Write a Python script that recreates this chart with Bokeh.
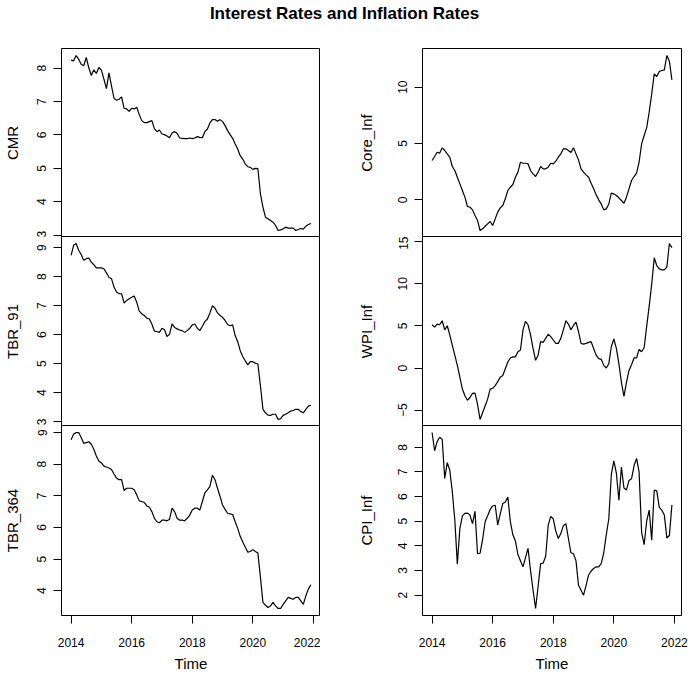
from bokeh.plotting import figure
from bokeh.layouts import column, row
from bokeh.models import Range1d, FixedTicker
from bokeh.embed import file_html
from bokeh.resources import INLINE
from bokeh.core.properties import value

# ---------------- data (monthly, Jan 2014 - Dec 2021) ----------------
start_year = 2014
n_months = 96
time = [start_year + i / 12 for i in range(n_months)]

cmr = [8.24, 8.22, 8.38, 8.27, 8.12, 8.07, 8.32, 8.02, 7.78, 7.95, 7.84, 8.02,
       7.94, 7.67, 7.39, 7.86, 7.47, 7.10, 7.04, 7.07, 7.14, 6.80, 6.78, 6.71,
       6.80, 6.78, 6.83, 6.61, 6.43, 6.37, 6.37, 6.40, 6.43, 6.19, 6.10, 6.15,
       6.03, 6.01, 5.97, 5.92, 6.06, 6.10, 6.05, 5.91, 5.90, 5.89, 5.89, 5.91,
       5.89, 5.91, 5.95, 5.93, 5.92, 6.10, 6.18, 6.36, 6.46, 6.46, 6.41, 6.46,
       6.40, 6.28, 6.13, 6.01, 5.90, 5.73, 5.58, 5.38, 5.28, 5.13, 5.05, 5.03,
       4.97, 5.00, 4.99, 4.24, 3.84, 3.54, 3.49, 3.44, 3.39, 3.29, 3.14, 3.16,
       3.19, 3.24, 3.21, 3.21, 3.21, 3.14, 3.17, 3.20, 3.18, 3.27, 3.32, 3.35]

tbr_91 = [8.73, 9.08, 9.14, 8.91, 8.76, 8.56, 8.62, 8.64, 8.50, 8.41, 8.30, 8.30,
          8.30, 8.27, 8.13, 7.98, 7.93, 7.64, 7.47, 7.41, 7.41, 7.09, 7.18, 7.24,
          7.29, 7.33, 7.12, 6.81, 6.72, 6.66, 6.57, 6.54, 6.37, 6.12, 6.11, 6.08,
          6.22, 6.17, 5.94, 6.02, 6.37, 6.25, 6.20, 6.16, 6.14, 6.08, 6.14, 6.22,
          6.34, 6.37, 6.22, 6.14, 6.29, 6.45, 6.54, 6.75, 7.00, 6.91, 6.75, 6.66,
          6.60, 6.49, 6.35, 6.31, 6.34, 5.97, 5.76, 5.45, 5.25, 5.10, 4.96, 5.07,
          5.07, 5.02, 4.99, 4.24, 3.43, 3.31, 3.23, 3.22, 3.26, 3.26, 3.08, 3.11,
          3.22, 3.26, 3.31, 3.37, 3.39, 3.43, 3.43, 3.35, 3.31, 3.43, 3.54, 3.57]

tbr_364 = [8.77, 8.95, 9.00, 9.00, 8.84, 8.66, 8.68, 8.71, 8.63, 8.47, 8.26, 8.10,
           8.04, 7.94, 7.91, 7.88, 7.83, 7.69, 7.56, 7.51, 7.51, 7.17, 7.24, 7.24,
           7.24, 7.19, 7.03, 6.84, 6.82, 6.79, 6.68, 6.64, 6.50, 6.29, 6.18, 6.15,
           6.23, 6.23, 6.21, 6.26, 6.61, 6.50, 6.29, 6.23, 6.23, 6.21, 6.29, 6.39,
           6.55, 6.61, 6.61, 6.55, 6.82, 7.09, 7.19, 7.30, 7.65, 7.51, 7.24, 6.98,
           6.71, 6.57, 6.45, 6.43, 6.41, 6.18, 5.97, 5.72, 5.54, 5.38, 5.22, 5.24,
           5.30, 5.24, 5.19, 4.43, 3.63, 3.54, 3.47, 3.52, 3.63, 3.52, 3.44, 3.44,
           3.57, 3.68, 3.79, 3.76, 3.73, 3.79, 3.79, 3.68, 3.57, 3.84, 4.05, 4.19]

core_inf = [3.49, 3.85, 4.23, 4.14, 4.62, 4.38, 4.08, 3.79, 2.96, 2.60, 2.01, 1.42,
            0.83, 0.24, -0.59, -0.65, -0.89, -1.39, -1.83, -2.72, -2.57, -2.34, -2.13, -1.92,
            -2.28, -1.69, -1.09, -0.71, -0.50, 0.09, 0.83, 1.12, 1.36, 2.01, 2.46, 3.34,
            3.25, 3.25, 3.20, 2.60, 2.31, 2.07, 2.46, 2.96, 2.75, 2.75, 2.90, 3.25,
            3.20, 3.43, 3.79, 4.08, 4.53, 4.53, 4.38, 4.20, 4.62, 4.08, 3.55, 2.75,
            2.46, 2.22, 2.01, 1.48, 0.98, 0.44, 0.00, -0.36, -0.89, -0.80, -0.36, 0.59,
            0.53, 0.38, 0.18, -0.06, -0.30, 0.24, 0.98, 1.72, 2.07, 2.37, 3.34, 4.97,
            5.71, 6.39, 7.78, 9.41, 11.18, 10.95, 11.39, 11.48, 11.54, 12.81, 12.31, 10.65]

wpi_inf = [5.14, 4.86, 5.22, 5.14, 5.62, 4.54, 5.02, 3.94, 2.73, 1.53, 0.32, -1.08,
           -2.49, -3.29, -3.82, -3.49, -3.01, -2.97, -4.30, -6.10, -5.30, -4.50, -3.69, -2.49,
           -2.41, -2.09, -1.61, -1.08, -0.88, -0.08, 0.72, 1.20, 1.33, 1.33, 1.93, 2.13,
           4.50, 5.55, 5.14, 3.94, 2.33, 0.92, 1.53, 3.13, 3.05, 3.53, 4.02, 3.73,
           3.33, 2.93, 2.93, 3.53, 4.54, 5.62, 5.22, 4.54, 5.06, 5.46, 4.34, 2.93,
           2.85, 2.93, 3.05, 3.13, 2.33, 1.53, 1.12, 1.04, 0.32, 0.00, 0.52, 2.53,
           3.45, 2.33, 0.52, -1.69, -3.37, -1.69, -0.28, 0.40, 1.20, 1.20, 2.21, 1.93,
           2.41, 4.94, 7.35, 9.96, 13.09, 12.17, 11.77, 11.65, 11.65, 11.97, 14.78, 14.30]

cpi_inf = [8.60, 7.86, 8.23, 8.41, 8.33, 6.74, 7.38, 7.08, 6.20, 5.05, 3.26, 4.70,
           5.22, 5.32, 5.33, 5.25, 4.90, 5.40, 3.68, 3.70, 4.25, 4.98, 5.22, 5.48,
           5.62, 5.65, 4.85, 5.30, 5.72, 5.78, 5.98, 4.98, 4.45, 4.20, 3.65, 3.40,
           3.15, 3.52, 3.90, 3.00, 2.20, 1.46, 2.36, 3.28, 3.30, 3.58, 4.84, 5.20,
           5.10, 4.60, 4.30, 4.50, 4.82, 4.90, 4.30, 3.72, 3.68, 3.40, 2.40, 2.20,
           2.00, 2.40, 2.82, 2.98, 3.08, 3.15, 3.15, 3.28, 3.72, 4.45, 5.10, 6.90,
           7.45, 6.95, 5.85, 7.20, 6.35, 6.27, 6.65, 6.72, 7.25, 7.55, 7.00, 4.55,
           4.05, 5.00, 5.45, 4.23, 6.26, 6.23, 5.56, 5.45, 5.25, 4.32, 4.42, 5.66]

x_ticks = [2014, 2016, 2018, 2020, 2022]
cmr_ticks = [3, 4, 5, 6, 7, 8]
tbr91_ticks = [3, 4, 5, 6, 7, 8, 9]
tbr364_ticks = [4, 5, 6, 7, 8, 9]
core_ticks = [0, 5, 10]
wpi_ticks = [-5, 0, 5, 10, 15]
cpi_ticks = [2, 3, 4, 5, 6, 7, 8]

title_text = "Interest Rates and Inflation Rates"
x_label = "Time"

FONT = "Liberation Sans"
FRAME_W = 259


def make_panel(series, label, yticks, left_border, right_border, label_standoff,
               frame_h, bottom, overlap):
    lo, hi = min(series), max(series)
    pad = 0.04 * (hi - lo)
    tlo, thi = time[0], time[-1]
    tpad = 0.04 * (thi - tlo)
    kw = {}
    if overlap:
        kw["margin"] = (-1, 0, 0, 0)
    p = figure(frame_width=FRAME_W, frame_height=frame_h,
               x_range=Range1d(tlo - tpad, thi + tpad),
               y_range=Range1d(lo - pad, hi + pad),
               output_backend="svg", toolbar_location=None,
               x_axis_location="below" if bottom else None,
               min_border_left=left_border, min_border_right=right_border,
               min_border_top=0, min_border_bottom=58 if bottom else 0,
               background_fill_color="white", border_fill_color="white", **kw)
    p.xgrid.visible = False
    p.ygrid.visible = False
    p.outline_line_color = "black"
    p.outline_line_width = 1
    p.outline_line_alpha = 1

    p.line(time, series, line_color="black", line_width=1.2)

    ya = p.yaxis[0]
    ya.ticker = FixedTicker(ticks=yticks)
    ya.axis_label = label
    ya.axis_label_text_font = FONT
    ya.axis_label_text_font_size = "15px"
    ya.axis_label_text_font_style = "normal"
    ya.axis_label_text_color = "black"
    ya.axis_label_standoff = label_standoff
    ya.major_label_text_font = FONT
    ya.major_label_text_font_size = "12px"
    ya.major_label_text_color = "black"
    ya.major_label_orientation = "vertical"
    ya.major_label_standoff = 7
    ya.major_tick_in = 0
    ya.major_tick_out = 8
    ya.major_tick_line_color = "black"
    ya.minor_tick_line_color = None
    ya.axis_line_color = None

    if bottom:
        xa = p.xaxis[0]
        xa.ticker = FixedTicker(ticks=x_ticks)
        xa.axis_label = x_label
        xa.axis_label_text_font = FONT
        xa.axis_label_text_font_size = "15px"
        xa.axis_label_text_font_style = "normal"
        xa.axis_label_text_color = "black"
        xa.axis_label_standoff = 5
        xa.major_label_text_font = FONT
        xa.major_label_text_font_size = "12px"
        xa.major_label_text_color = "black"
        xa.major_label_standoff = 14
        xa.major_tick_in = 0
        xa.major_tick_out = 8
        xa.major_tick_line_color = "black"
        xa.minor_tick_line_color = None
        xa.axis_line_color = None
    return p


L_LEFT, L_RIGHT = 58, 0
R_LEFT, R_RIGHT = 102, 10

f1 = make_panel(cmr, "CMR", cmr_ticks, L_LEFT, L_RIGHT, 14, 189, False, False)
f2 = make_panel(tbr_91, "TBR_91", tbr91_ticks, L_LEFT, L_RIGHT, 14, 190, False, True)
f3 = make_panel(tbr_364, "TBR_364", tbr364_ticks, L_LEFT, L_RIGHT, 14, 190, True, True)
g1 = make_panel(core_inf, "Core_Inf", core_ticks, R_LEFT, R_RIGHT, 21, 189, False, False)
g2 = make_panel(wpi_inf, "WPI_Inf", wpi_ticks, R_LEFT, R_RIGHT, 21, 190, False, True)
g3 = make_panel(cpi_inf, "CPI_Inf", cpi_ticks, R_LEFT, R_RIGHT, 21, 190, True, True)

# title strip
tf = figure(width=688, height=48, x_range=Range1d(0, 688), y_range=Range1d(0, 48),
            output_backend="svg", toolbar_location=None,
            x_axis_location=None, y_axis_location=None,
            min_border=0, border_fill_color="white")
tf.xgrid.visible = False
tf.ygrid.visible = False
tf.outline_line_color = None
tf.text(x=[344], y=[35], text=[title_text], text_align="center",
        text_baseline="alphabetic", text_font=value(FONT),
        text_font_size="17px", text_font_style="bold", text_color="black")

layout = column(tf, row(column(f1, f2, f3), column(g1, g2, g3)))

with open("out.html", "w") as fh:
    fh.write(file_html(layout, INLINE))
